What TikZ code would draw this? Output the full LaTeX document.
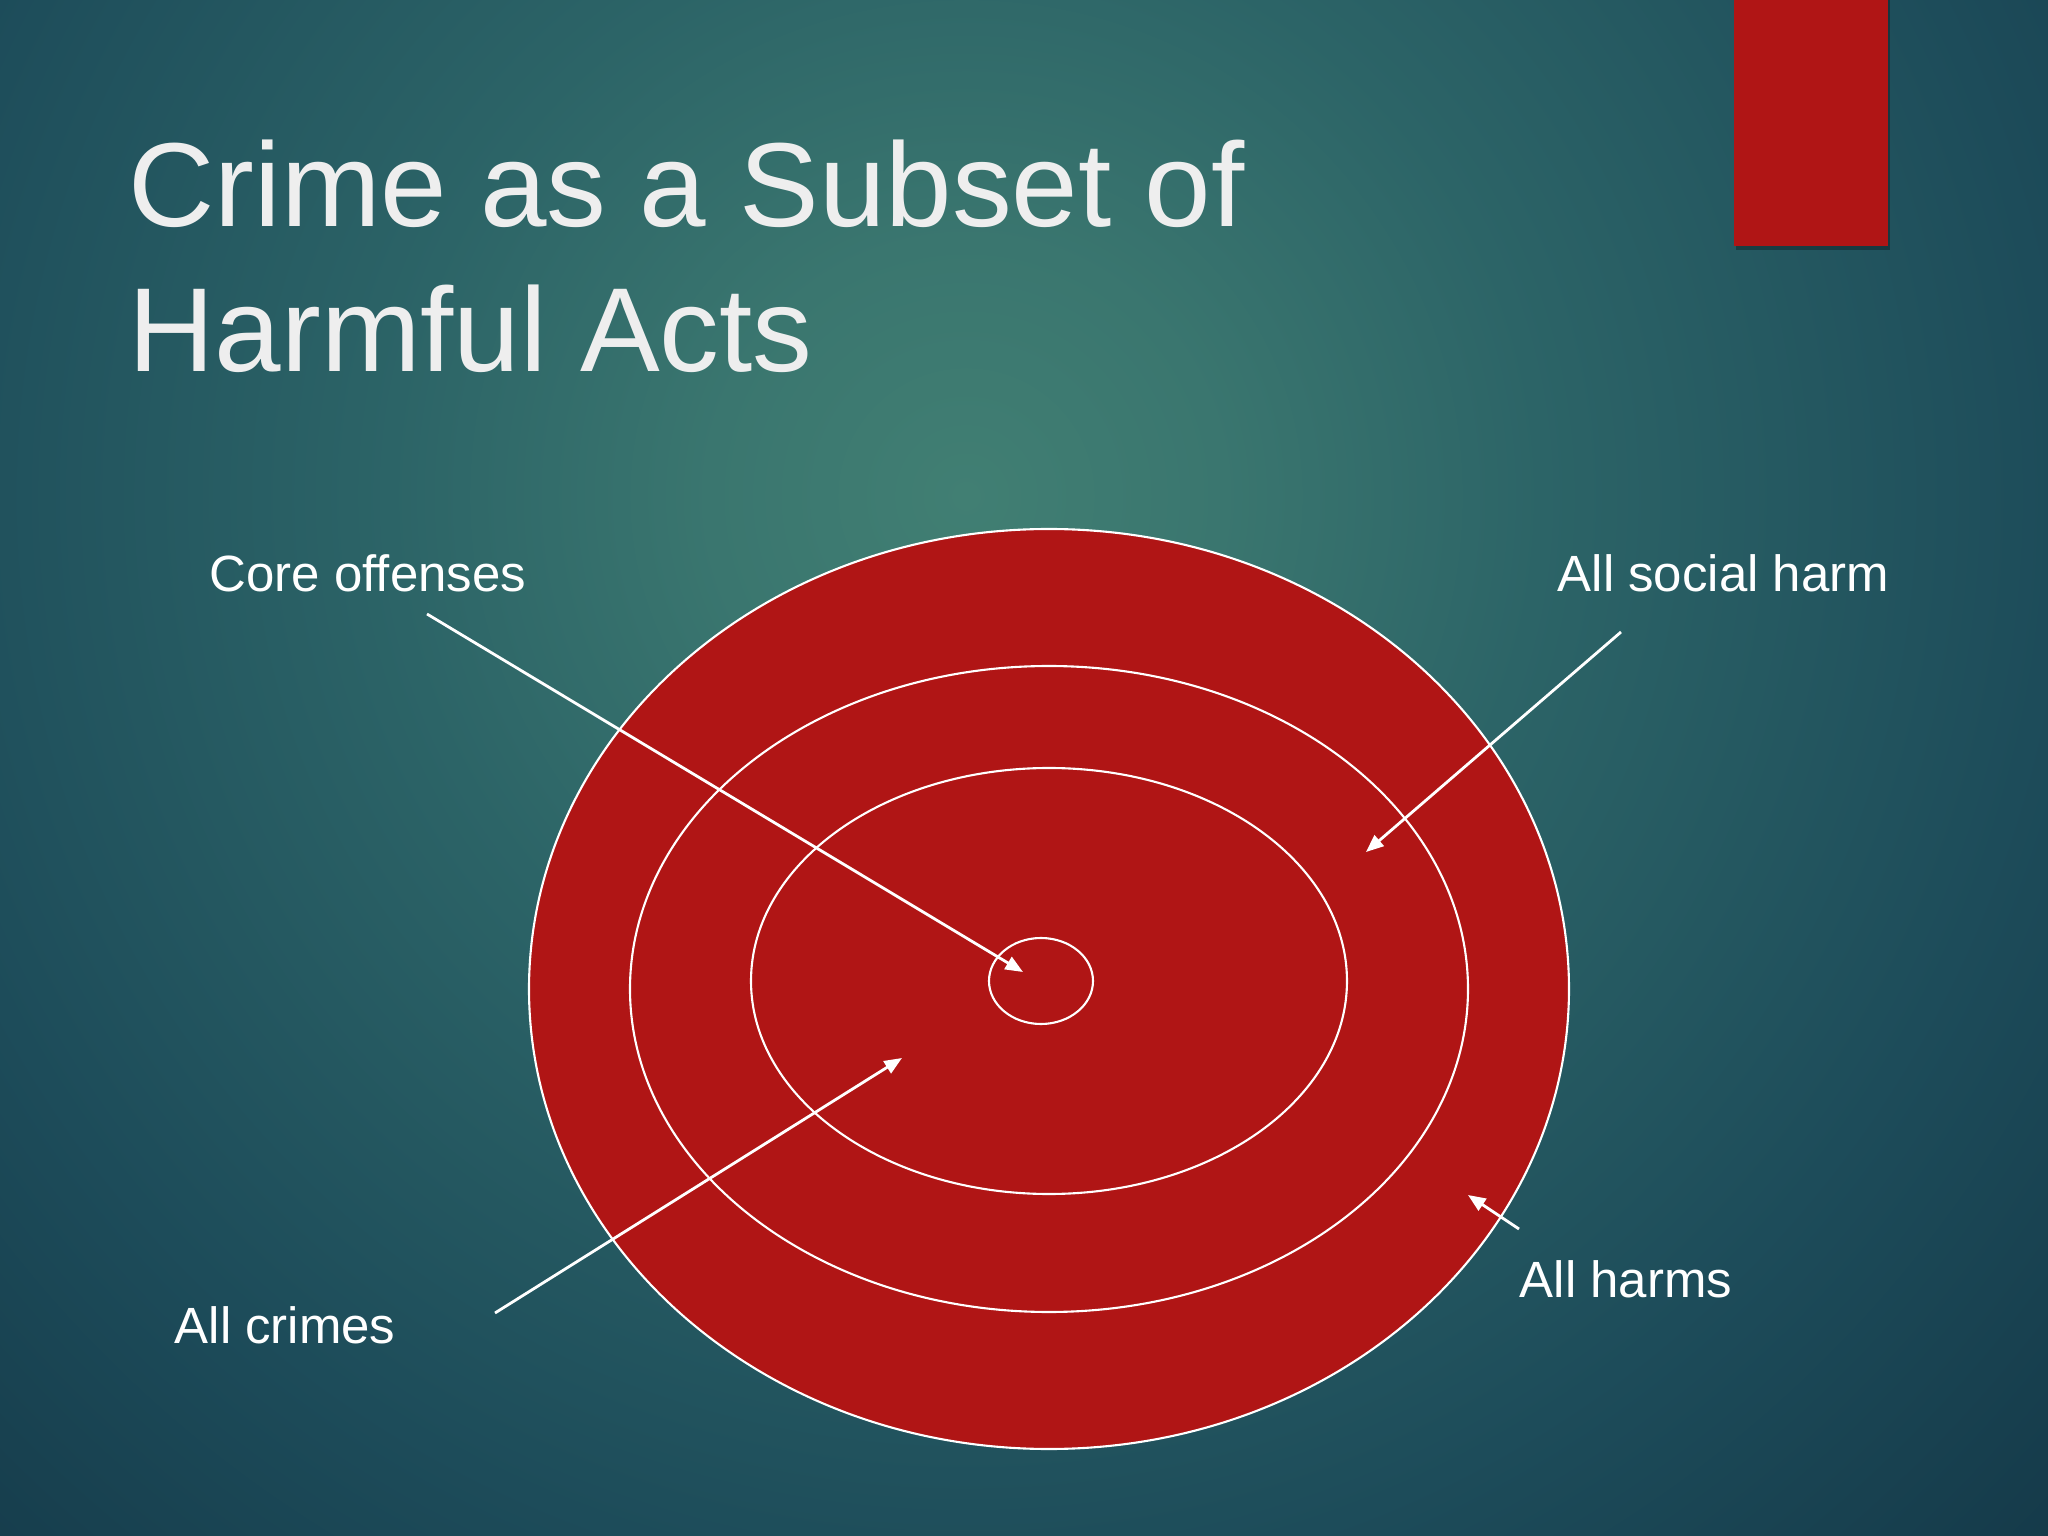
\documentclass[tikz,border=0pt]{standalone}
\usepackage{fontspec}
\setmainfont{Liberation Sans}
\usetikzlibrary{arrows.meta}

\definecolor{slidered}{HTML}{B01515}
\definecolor{bgin}{HTML}{417F73}
\definecolor{bgnear}{HTML}{3A766F}
\definecolor{bgmid}{HTML}{2C6467}
\definecolor{bgdark}{HTML}{1D4C5A}
\definecolor{bgout}{HTML}{133646}
\definecolor{titlegray}{HTML}{EEEEEE}

\pgfdeclareradialshading{slideglow}{\pgfpoint{0bp}{0bp}}{color(0bp)=(bgin); color(4bp)=(bgnear); color(9bp)=(bgmid); color(17bp)=(bgdark); color(25bp)=(bgout); color(50bp)=(bgout)}

\tikzset{
  ring/.style={draw=white, line width=0.6pt},
  pointer/.style={draw=white, line width=0.8pt, -{Triangle[length=5pt,width=4pt]}},
  tag/.style={text=white, anchor=base west, inner sep=0pt, font=\fontsize{14.5}{17}\selectfont}
}

\begin{document}
\begin{tikzpicture}
    \useasboundingbox (0,0) rectangle (20.48,-15.36);
    \fill [bgout] (0,0) rectangle (20.48,-15.36);
    \begin{scope}
        \clip (0,0) rectangle (20.48,-15.36);
        \shade [shading=slideglow] (9.66,-4.96) circle (16);
    \end{scope}
    % red tab top right
    \fill [black, opacity=0.3] (17.36,0) rectangle (18.90,-2.50);
    \fill [slidered] (17.34,0) rectangle (18.88,-2.46);
    \node [anchor=base west, align=left, inner sep=0pt, text=titlegray,
        font=\fontsize{34}{41.5}\selectfont] (title) at (1.28,-3.72)
        {Crime as a Subset of\\Harmful Acts};
    % rings
    \fill [slidered] (10.49,-9.89) ellipse (5.20 and 4.60);
    \draw [ring] (10.49,-9.89) ellipse (5.20 and 4.60);
    \draw [ring] (10.49,-9.89) ellipse (4.19 and 3.23);
    \draw [ring] (10.49,-9.81) ellipse (2.98 and 2.13);
    \draw [ring] (10.41,-9.81) ellipse (0.52 and 0.43);
    % labels
    \node [tag] (core) at (2.09,-5.91) {Core offenses};
    \node [tag] (social) at (15.57,-5.91) {All social harm};
    \node [tag] (crimes) at (1.74,-13.43) {All crimes};
    \node [tag] (harms) at (15.19,-12.97) {All harms};
    \coordinate (coreTail) at (4.27,-6.14);
    \coordinate (coreTip) at (10.23,-9.72);
    \coordinate (socialTail) at (16.21,-6.32);
    \coordinate (socialTip) at (13.66,-8.52);
    \coordinate (crimesTail) at (4.95,-13.13);
    \coordinate (crimesTip) at (9.02,-10.58);
    \coordinate (harmsTail) at (15.19,-12.29);
    \coordinate (harmsTip) at (14.68,-11.95);
    \draw [pointer] (coreTail) -- (coreTip);
    \draw [pointer] (socialTail) -- (socialTip);
    \draw [pointer] (crimesTail) -- (crimesTip);
    \draw [pointer] (harmsTail) -- (harmsTip);
\end{tikzpicture}
\end{document}
